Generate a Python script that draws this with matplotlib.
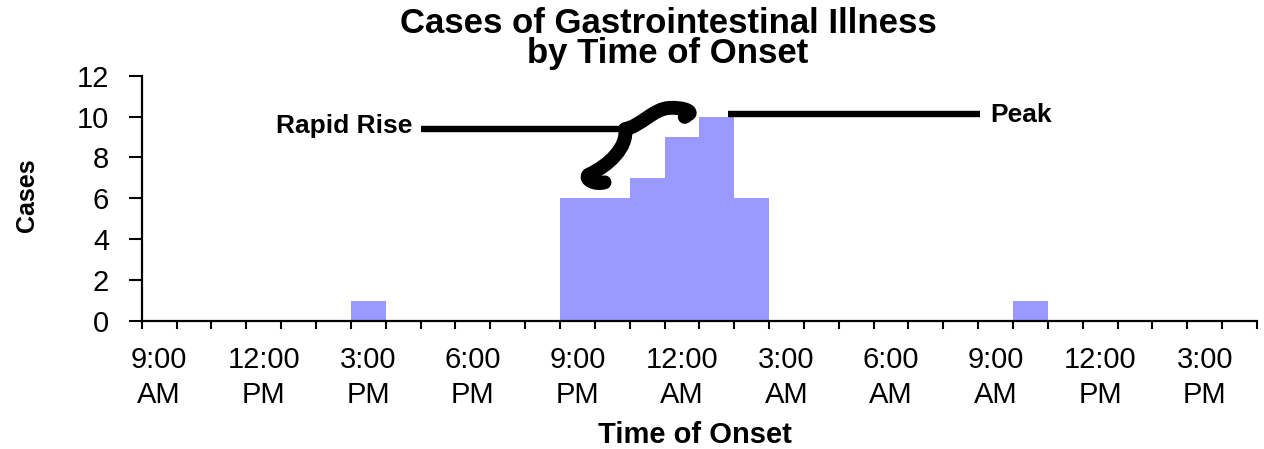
import numpy as np
import matplotlib
matplotlib.use("Agg")
import matplotlib.pyplot as plt
from matplotlib.path import Path
from matplotlib.patches import PathPatch

plt.rcParams['font.family'] = ['Liberation Sans', 'DejaVu Sans']

# hourly onset categories, 9:00 AM day 1 through 4:00 PM day 2
hours = ["9:00 AM", "10:00 AM", "11:00 AM", "12:00 PM", "1:00 PM", "2:00 PM",
         "3:00 PM", "4:00 PM", "5:00 PM", "6:00 PM", "7:00 PM", "8:00 PM",
         "9:00 PM", "10:00 PM", "11:00 PM", "12:00 AM", "1:00 AM", "2:00 AM",
         "3:00 AM", "4:00 AM", "5:00 AM", "6:00 AM", "7:00 AM", "8:00 AM",
         "9:00 AM", "10:00 AM", "11:00 AM", "12:00 PM", "1:00 PM", "2:00 PM",
         "3:00 PM", "4:00 PM"]
cases = [0, 0, 0, 0, 0, 0, 1, 0, 0, 0, 0, 0,
         6, 6, 7, 9, 10, 6, 0, 0, 0, 0, 0, 0,
         0, 1, 0, 0, 0, 0, 0, 0]
label_every = 3

fig = plt.figure(figsize=(12.64, 4.49), dpi=100)
ax = fig.add_axes([0.1121, 0.2851, 0.8824, 0.5465])

xpos = np.arange(len(hours))
ax.bar(xpos, cases, width=1.0, align='edge', color='#9999FF', edgecolor='none')

ax.set_xlim(0, len(hours))
ax.set_ylim(0, 12)

ax.spines['top'].set_visible(False)
ax.spines['right'].set_visible(False)
for s in ['left', 'bottom']:
    ax.spines[s].set_linewidth(1.6)

# ticks at every hour boundary, labels centred under every third hour
ax.set_xticks(np.arange(len(hours) + 1))
ax.set_xticklabels([])
ax.set_xticks(xpos[::label_every] + 0.5, minor=True)
ax.set_xticklabels([h.replace(" ", "\n") for h in hours[::label_every]],
                   minor=True, fontsize=21, linespacing=1.3)
ax.tick_params(axis='x', which='major', direction='out', length=6, width=1.5)
ax.tick_params(axis='x', which='minor', length=0, pad=18)

ax.set_yticks(np.arange(0, 13, 2))
ax.tick_params(axis='y', direction='out', length=9.5, width=1.5, labelsize=21, pad=14)

# annotations
ax.plot([8.0, 13.87], [9.37, 9.37], color='black', lw=4.6, solid_capstyle='butt')
ax.plot([16.82, 24.05], [10.1, 10.1], color='black', lw=4.6, solid_capstyle='butt')
ax.text(7.76, 9.19, "Rapid Rise", ha='right', va='baseline', fontsize=19, fontweight='bold')
ax.text(24.34, 9.75, "Peak", ha='left', va='baseline', fontsize=19, fontweight='bold')

verts = [(13.28, 6.78), (13.0, 6.65), (12.70, 6.92), (12.82, 7.15),
         (13.4, 7.6), (13.95, 8.5), (13.87, 9.39),
         (14.3, 9.5), (14.7, 10.42), (15.16, 10.42),
         (15.5, 10.45), (15.75, 10.3), (15.72, 10.15),
         (15.58, 9.98)]
codes = [Path.MOVETO, Path.CURVE4, Path.CURVE4, Path.CURVE4,
         Path.CURVE4, Path.CURVE4, Path.CURVE4,
         Path.CURVE4, Path.CURVE4, Path.CURVE4,
         Path.CURVE4, Path.CURVE4, Path.CURVE4,
         Path.LINETO]
brace = PathPatch(Path(verts, codes), facecolor='none', edgecolor='black', lw=10,
                  capstyle='round', joinstyle='round')
ax.add_patch(brace)

fig.text(668 / 1264, 1 - 33 / 449, "Cases of Gastrointestinal Illness",
         ha='center', va='baseline', fontsize=25, fontweight='bold')
fig.text(668 / 1264, 1 - 63 / 449, "by Time of Onset",
         ha='center', va='baseline', fontsize=25, fontweight='bold')
fig.text(695 / 1264, 1 - 443 / 449, "Time of Onset",
         ha='center', va='baseline', fontsize=21, fontweight='bold')
fig.text(27 / 1264, 1 - 195 / 449, "Cases", rotation=90,
         ha='center', va='center', fontsize=18, fontweight='bold')

fig.savefig("out.png", dpi=100)
